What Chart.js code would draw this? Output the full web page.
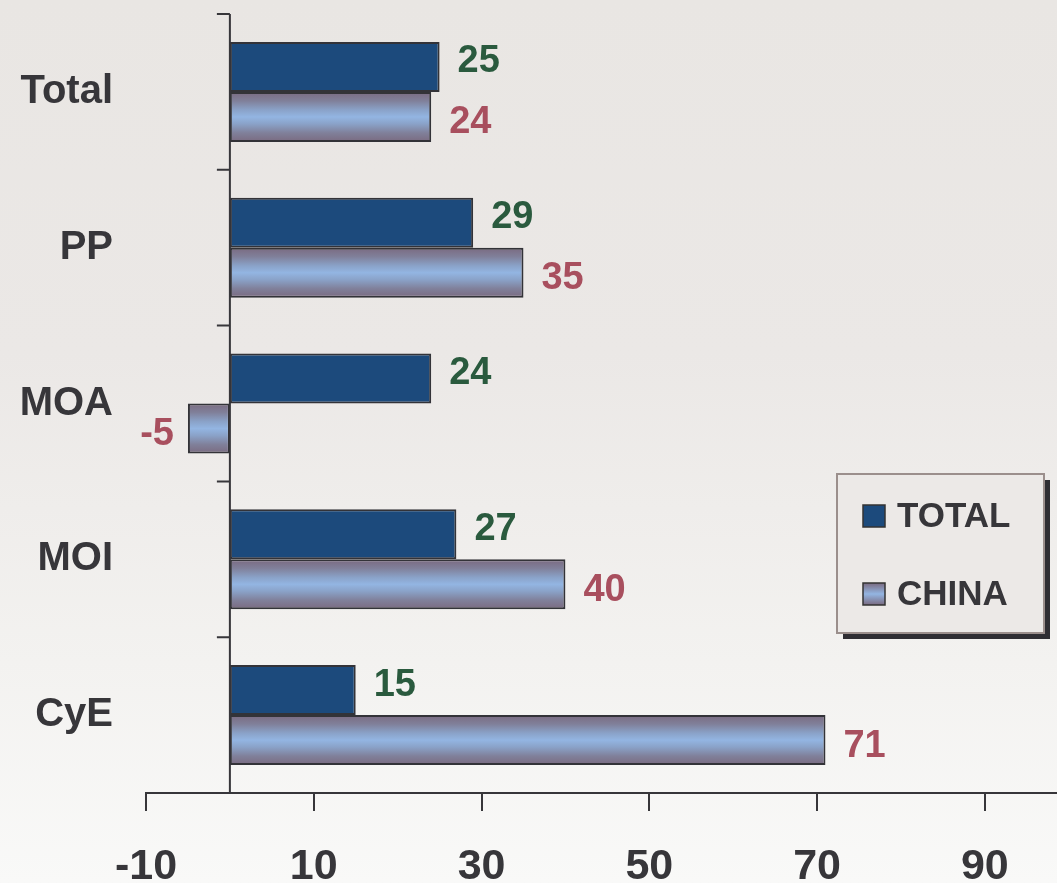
<!DOCTYPE html>
<html>
<head>
<meta charset="utf-8">
<script src="https://cdn.jsdelivr.net/npm/chart.js@4"></script>
<style>
    html, body { margin: 0; padding: 0; }
    body {
        width: 1057px;
        height: 883px;
        overflow: hidden;
        background: linear-gradient(to bottom, #e9e6e3 0%, #ebe8e6 40%, #f3f2f0 75%, #f9f9f8 100%);
    }
    #wrap { width: 1057px; height: 883px; position: relative; }
</style>
</head>
<body>
<div id="wrap"><canvas id="chart"></canvas></div>
<script>
const categories = ["Total", "PP", "MOA", "MOI", "CyE"];
const totalValues = [25, 29, 24, 27, 15];
const chinaValues = [24, 35, -5, 40, 71];
const xTicks = [-10, 10, 30, 50, 70, 90];

const CAT_PCT = 0.642;
const FONT = "'Liberation Sans', Arial, sans-serif";
const INK = "#37363a";

// light blue bar with darker purple-grey edges
function chinaFill(ctx) {
    const chart = ctx.chart;
    const ys = chart.scales.y;
    if (ctx.type !== "data" || !ys) return "#8fb0dc";
    const band = ys.height / categories.length;
    const top = ys.getPixelForValue(ctx.dataIndex);
    const h = band * CAT_PCT / 2;
    if (!isFinite(top) || !isFinite(h) || h <= 0) return "#8fb0dc";
    const g = chart.ctx.createLinearGradient(0, top, 0, top + h);
    g.addColorStop(0, "#7a6a80");
    g.addColorStop(0.18, "#80809a");
    g.addColorStop(0.36, "#8aa2c8");
    g.addColorStop(0.5, "#93b5e2");
    g.addColorStop(0.64, "#8aa2c8");
    g.addColorStop(0.82, "#80809a");
    g.addColorStop(1, "#7a6a80");
    return g;
}

// y axis line at x = 0 with ticks between categories
const zeroAxis = {
    id: "zeroAxis",
    afterDatasetsDraw(chart) {
        const { ctx, chartArea } = chart;
        const xs = chart.scales.x, ys = chart.scales.y;
        const x0 = xs.getPixelForValue(0);
        ctx.save();
        ctx.strokeStyle = INK;
        ctx.lineWidth = 2;
        ctx.beginPath();
        ctx.moveTo(x0, chartArea.top);
        ctx.lineTo(x0, chartArea.bottom);
        const band = ys.height / categories.length;
        for (let i = 0; i <= categories.length; i++) {
            const y = ys.getPixelForValue(i) - band / 2;
            ctx.moveTo(x0 - 13, y);
            ctx.lineTo(x0, y);
        }
        ctx.stroke();
        ctx.restore();
    }
};

const valueLabels = {
    id: "valueLabels",
    afterDatasetsDraw(chart) {
        const { ctx } = chart;
        const colors = ["#2a5a3e", "#a84f5e"];
        const dy = [-5, 6];
        ctx.save();
        ctx.font = "bold 38px " + FONT;
        ctx.textBaseline = "middle";
        chart.data.datasets.forEach((ds, di) => {
            const meta = chart.getDatasetMeta(di);
            meta.data.forEach((bar, i) => {
                const v = ds.data[i];
                ctx.fillStyle = colors[di];
                if (v >= 0) {
                    ctx.textAlign = "left";
                    ctx.fillText(String(v), bar.x + 18, bar.y + dy[di]);
                } else {
                    ctx.textAlign = "right";
                    ctx.fillText(String(v), bar.x - 14, bar.y + dy[di]);
                }
            });
        });
        ctx.restore();
    }
};

const boxLegend = {
    id: "boxLegend",
    afterDraw(chart) {
        const { ctx } = chart;
        const bx = 837, by = 474, bw = 207, bh = 159;
        ctx.save();
        ctx.fillStyle = "#2f2e33";
        ctx.fillRect(bx + 6, by + 6, bw, bh);
        ctx.fillStyle = "#ece9e7";
        ctx.fillRect(bx, by, bw, bh);
        ctx.strokeStyle = "#9b8f8c";
        ctx.lineWidth = 2;
        ctx.strokeRect(bx, by, bw, bh);

        const rows = [516, 594];
        ctx.font = "bold 35px " + FONT;
        ctx.textBaseline = "middle";
        ctx.textAlign = "left";
        chart.data.datasets.forEach((ds, di) => {
            const cy = rows[di];
            const sx = 863, sy = cy - 11;
            if (di === 0) {
                ctx.fillStyle = ds.backgroundColor;
            } else {
                const g = ctx.createLinearGradient(0, sy, 0, sy + 22);
                g.addColorStop(0, "#7a6a80");
                g.addColorStop(0.5, "#93b5e2");
                g.addColorStop(1, "#7a6a80");
                ctx.fillStyle = g;
            }
            ctx.fillRect(sx, sy, 22, 22);
            ctx.strokeStyle = "#333";
            ctx.lineWidth = 1.5;
            ctx.strokeRect(sx, sy, 22, 22);
            ctx.fillStyle = INK;
            ctx.fillText(ds.label, 897, cy + 1);
        });
        ctx.restore();
    }
};

new Chart(document.getElementById("chart").getContext("2d"), {
    type: "bar",
    data: {
        labels: categories,
        datasets: [
            {
                label: "TOTAL",
                data: totalValues,
                backgroundColor: "#1c4a7c",
                borderColor: "#333338",
                borderWidth: 2,
                borderSkipped: false,
                categoryPercentage: CAT_PCT,
                barPercentage: 1
            },
            {
                label: "CHINA",
                data: chinaValues,
                backgroundColor: chinaFill,
                borderColor: "#333338",
                borderWidth: 2,
                borderSkipped: false,
                categoryPercentage: CAT_PCT,
                barPercentage: 1
            }
        ]
    },
    options: {
        indexAxis: "y",
        responsive: true,
        maintainAspectRatio: false,
        animation: false,
        layout: { padding: { top: 14, right: 0, bottom: 0, left: 0 } },
        plugins: {
            legend: { display: false },
            tooltip: { enabled: false }
        },
        scales: {
            x: {
                min: -10,
                max: 98.6,
                afterBuildTicks: (scale) => {
                    scale.ticks = xTicks.map(v => ({ value: v }));
                },
                afterFit: (scale) => {
                    scale.height = 90;
                    scale.paddingLeft = 0;
                    scale.paddingRight = 0;
                },
                grid: {
                    drawOnChartArea: false,
                    drawTicks: true,
                    tickLength: 18,
                    color: INK,
                    lineWidth: 2
                },
                border: { display: true, color: INK, width: 2 },
                ticks: {
                    color: INK,
                    padding: 30,
                    maxRotation: 0,
                    autoSkip: false,
                    font: { family: FONT, size: 43, weight: "bold" }
                }
            },
            y: {
                afterFit: (scale) => {
                    scale.width = 146;
                    scale.paddingTop = 0;
                    scale.paddingBottom = 0;
                },
                grid: { display: false, drawTicks: false },
                border: { display: false },
                ticks: {
                    color: INK,
                    padding: 33,
                    font: { family: FONT, size: 40, weight: "bold" }
                }
            }
        }
    },
    plugins: [zeroAxis, valueLabels, boxLegend]
});
</script>
</body>
</html>
